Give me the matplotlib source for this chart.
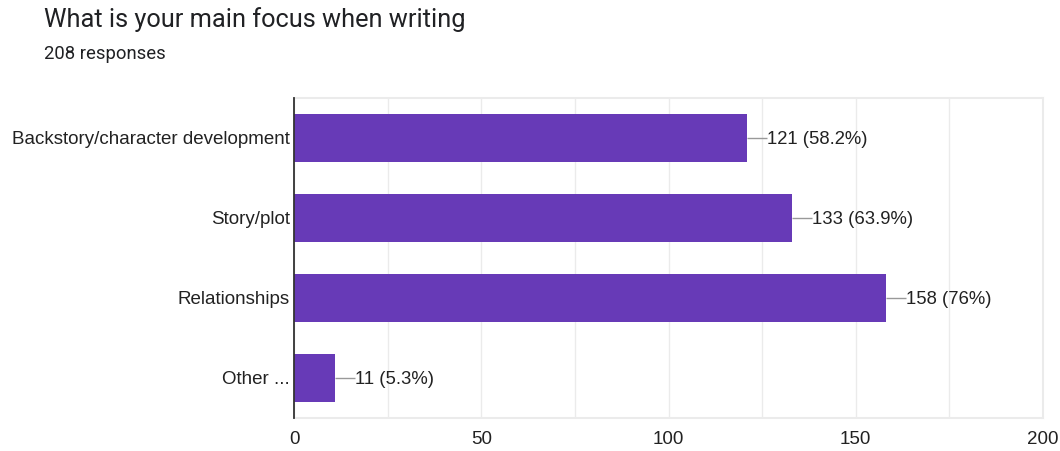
import matplotlib
matplotlib.use("Agg")
import matplotlib.pyplot as plt
from matplotlib.ticker import MultipleLocator

title = "What is your main focus when writing"
subtitle = "208 responses"
categories = ["Backstory/character development", "Story/plot", "Relationships", "Other ..."]
counts = [121, 133, 158, 11]
percent_labels = ["58.2%", "63.9%", "76%", "5.3%"]

bar_color = "#673ab7"
grid_color = "#ebebeb"
text_color = "#222222"

fig = plt.figure(figsize=(10.6, 4.51), dpi=100)
ax = fig.add_axes([294 / 1060, 1 - 418 / 451, (1043 - 294) / 1060, 320 / 451])

ypos = list(range(len(categories)))
ax.barh(ypos, counts, height=0.61, color=bar_color, zorder=3)

ax.set_xlim(0, 200)
ax.set_ylim(len(categories) - 0.5, -0.5)
ax.xaxis.set_major_locator(MultipleLocator(50))
ax.xaxis.set_minor_locator(MultipleLocator(25))
ax.grid(axis="x", which="both", color=grid_color, linewidth=1, zorder=0)
ax.set_yticks(ypos)
ax.set_yticklabels(categories, family="Liberation Sans", fontsize=13.5, color=text_color)
for lab in ax.get_yticklabels():
    lab.set_verticalalignment("center_baseline")
for lab in ax.get_xticklabels():
    lab.set_family("Liberation Sans")
ax.tick_params(axis="x", which="both", length=0, pad=9, labelsize=13.5, labelcolor=text_color)
ax.tick_params(axis="y", length=0, pad=3)

for side in ("top", "right", "bottom"):
    ax.spines[side].set_color(grid_color)
    ax.spines[side].set_linewidth(1.5)
ax.spines["left"].set_color("#333333")
ax.spines["left"].set_linewidth(1.3)
ax.spines["left"].set_zorder(4)

for y, c, p in zip(ypos, counts, percent_labels):
    ax.plot([c, c + 5.3], [y, y], color="#999999", linewidth=1, zorder=3, solid_capstyle="butt")
    ax.text(c + 5.3, y, f"{c} ({p})", va="center_baseline", ha="left",
            family="Liberation Sans", fontsize=13.3, color=text_color, zorder=4)

fig.text(44 / 1060, 1 - 20 / 451, title, family="Roboto", fontsize=18.3,
         color="#202124", va="center", ha="left")
fig.text(44 / 1060, 1 - 54 / 451, subtitle, family="Roboto", fontsize=13.3,
         color="#202124", va="center", ha="left")

fig.savefig("out.png", dpi=100, facecolor="white")
